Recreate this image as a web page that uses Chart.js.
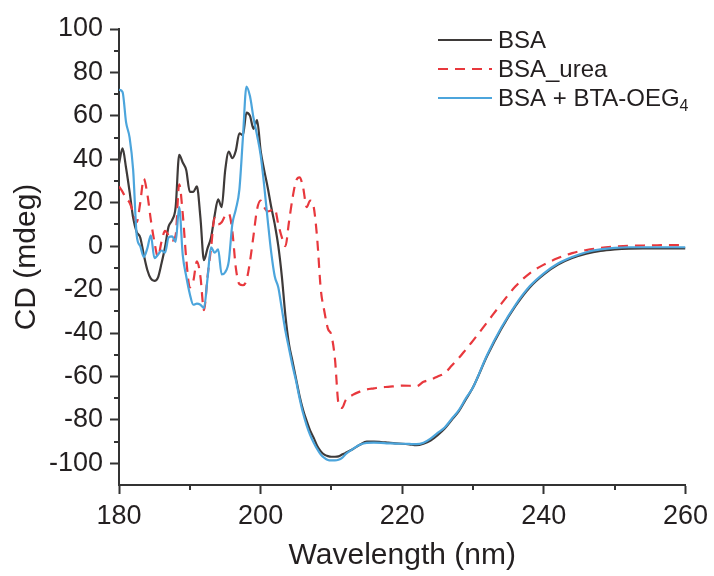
<!DOCTYPE html>
<html>
<head>
<meta charset="utf-8">
<script src="https://cdn.jsdelivr.net/npm/chart.js@4/dist/chart.umd.min.js"></script>
<style>
  html, body { margin: 0; padding: 0; background: #fff; }
  #wrap { width: 714px; height: 576px; }
</style>
</head>
<body>
<div id="wrap"><canvas id="cd"></canvas></div>
<script>
// wavelength (nm)
const wavelength = [
  180, 180.5, 181, 181.5, 182, 182.5, 183, 183.5, 184, 184.5,
  185, 185.5, 186, 186.5, 187, 187.5, 188, 188.5, 189, 189.5,
  190, 190.5, 191, 191.5, 192, 192.5, 193, 193.5, 194, 194.5,
  195, 195.5, 196, 196.5, 197, 197.5, 198, 198.5, 199, 199.5,
  200, 200.5, 201, 201.5, 202, 202.5, 203, 203.5, 204, 204.5,
  205, 205.5, 206, 206.5, 207, 207.5, 208, 208.5, 209, 209.5,
  210, 210.5, 211, 211.5, 212,
  213, 214, 215, 216, 217, 218, 219, 220, 221, 222,
  223, 224, 225, 226, 227, 228, 229, 230,
  232, 234, 236, 238, 240, 242, 244, 246, 248, 250,
  252, 254, 256, 258, 260
];

// CD (mdeg)
const bsa = [
  38, 45, 36, 25, 13, 6.5, 4, -4, -11, -15,
  -16, -14.5, -8, -0.5, 9, 12, 18, 42, 38.5, 35,
  25, 25, 27.5, 13, -6.5, -1, 4, 14, 21.5, 18,
  35, 43.5, 40.5, 44, 52, 51, 61.5, 60, 54, 58,
  44, 35, 27, 18, 10, 0, -14, -32, -45, -53,
  -61, -69, -75.5, -80.5, -85, -88.3, -92, -94.5, -96, -96.7,
  -97, -97, -96.8, -96, -95.2,
  -93.5, -91.5, -90, -90, -90.2, -90.5, -90.8, -91, -91.3, -91.7,
  -91, -89.5, -87, -84, -80, -76, -70.5, -65,
  -50.5, -38, -27.5, -19, -13, -8.5, -5.5, -3.5, -2.2, -1.5,
  -1.1, -1, -1, -1, -1
];

const bsaUrea = [
  27.5, 25, 22, 20, 15.5, 11, 20, 31, 24, 12,
  2, -5, 2, 7, 5, 2.5, 5, 28.5, 15, -6,
  -19, -16, -7, -14, -29.5, -14, -1, 13, 10, 11,
  14, 15, 7, -10, -17.5, -18, -15.8, -7, 5, 17,
  21, 18, 16, 16.5, 17.2, 10, 4, 0, 11, 22,
  30, 31.7, 27, 18, 21, 18, 3, -20, -30, -38,
  -41, -52, -72.5, -74.5, -71,
  -68.5, -67, -66, -65.5, -65, -64.8, -64.5, -64.2, -64.3, -64.5,
  -62.5, -61.5, -60, -58.5, -55, -51.5, -47.5, -43.5,
  -35, -26.5, -18.5, -12.5, -8.5, -5.5, -3.2, -1.8, -0.8, -0.2,
  0.2, 0.3, 0.4, 0.5, 0.5
];

const bsaBta = [
  72, 71, 57, 50, 35, 5, 0, -5, -1, 5,
  -5.5, -4, -2, -3, 4, 4.5, 2, 18, -4, -14,
  -22, -27, -26.5, -27, -28.5, -15, -0.5, -3, -1.5, -13,
  -12, -7, 10, 17, 26, 50, 73.5, 69, 59, 51,
  42, 28, 12, -3, -14, -19, -29, -39, -47, -55,
  -62, -70, -77, -82.5, -87, -90.5, -93.5, -96, -97.5, -98.5,
  -98.7, -98.7, -98.4, -97.5, -95.8,
  -93.5, -91.5, -90.6, -90.5, -90.6, -90.8, -90.9, -91, -91.1, -91.2,
  -90.5, -88.6, -86, -83.5, -79.5, -75.5, -70, -65,
  -50, -37.5, -27, -18.5, -12.5, -8, -5, -2.8, -1.5, -0.8,
  -0.5, -0.5, -0.5, -0.5, -0.5
];

const seriesNames = ['BSA', 'BSA_urea', 'BSA + BTA-OEG'];
const yTicks = [-100, -80, -60, -40, -20, 0, 20, 40, 60, 80, 100];
const xMinor = [190, 210, 230, 250];
const yMinor = [-90, -70, -50, -30, -10, 10, 30, 50, 70, 90];

const FONT = "'Liberation Sans', Arial, sans-serif";
const AXIS = '#333333';
const TEXT = '#231f20';

function pts(ys) {
  return wavelength.map((x, i) => ({ x: x, y: ys[i] }));
}

// minor tick marks (library has no minor ticks)
const minorTicks = {
  id: 'minorTicks',
  afterDraw(chart) {
    const ctx = chart.ctx;
    const xs = chart.scales.x, ys = chart.scales.y;
    const area = chart.chartArea;
    ctx.save();
    ctx.strokeStyle = AXIS;
    ctx.lineWidth = 2;
    ctx.beginPath();
    xMinor.forEach(v => {
      const px = Math.round(xs.getPixelForValue(v));
      ctx.moveTo(px, area.bottom);
      ctx.lineTo(px, area.bottom + 5);
    });
    yMinor.forEach(v => {
      const py = Math.round(ys.getPixelForValue(v));
      ctx.moveTo(area.left, py);
      ctx.lineTo(area.left - 5, py);
    });
    ctx.stroke();
    ctx.restore();
  }
};

// legend drawn by hand so the subscript 4 can be set
const cornerLegend = {
  id: 'cornerLegend',
  afterDraw(chart) {
    const ctx = chart.ctx;
    const x0 = 438, x1 = 492, tx = 498;
    const rows = [40, 69, 98];
    ctx.save();
    chart.data.datasets.forEach((ds, i) => {
      const y = rows[i];
      ctx.strokeStyle = ds.borderColor;
      ctx.lineWidth = 2.2;
      ctx.setLineDash(ds.borderDash || []);
      ctx.beginPath();
      ctx.moveTo(x0, y);
      ctx.lineTo(x1, y);
      ctx.stroke();
      ctx.setLineDash([]);
      ctx.fillStyle = TEXT;
      ctx.textBaseline = 'middle';
      ctx.textAlign = 'left';
      ctx.font = '24px ' + FONT;
      ctx.fillText(ds.label, tx, y + 1);
      if (i === 2) {
        const w = ctx.measureText(ds.label).width;
        ctx.font = '16px ' + FONT;
        ctx.fillText('4', tx + w, y + 9);
      }
    });
    ctx.restore();
  }
};

new Chart(document.getElementById('cd'), {
  type: 'line',
  data: {
    datasets: [
      {
        label: seriesNames[0],
        data: pts(bsa),
        borderColor: '#3e3a39',
        borderWidth: 2.2,
        pointRadius: 0,
        fill: false,
        order: 3
      },
      {
        label: seriesNames[1],
        data: pts(bsaUrea),
        borderColor: '#e8383d',
        borderWidth: 2.2,
        borderDash: [10, 7],
        pointRadius: 0,
        fill: false,
        order: 2
      },
      {
        label: seriesNames[2],
        data: pts(bsaBta),
        borderColor: '#4ca5dc',
        borderWidth: 2.2,
        pointRadius: 0,
        fill: false,
        order: 1
      }
    ]
  },
  options: {
    responsive: true,
    maintainAspectRatio: false,
    animation: false,
    cubicInterpolationMode: 'monotone',
    layout: { padding: { top: 29, right: 28, left: 0, bottom: 0 } },
    plugins: {
      legend: { display: false },
      tooltip: { enabled: false }
    },
    scales: {
      x: {
        type: 'linear',
        min: 180,
        max: 260,
        ticks: {
          stepSize: 20,
          color: TEXT,
          padding: 6,
          font: { family: FONT, size: 27 }
        },
        grid: {
          drawOnChartArea: false,
          drawTicks: true,
          tickLength: 9,
          tickWidth: 2,
          tickColor: AXIS
        },
        border: { display: true, color: AXIS, width: 2 },
        title: {
          display: true,
          text: 'Wavelength (nm)',
          color: TEXT,
          padding: { top: 0, bottom: 2 },
          font: { family: FONT, size: 30 }
        },
        afterFit(scale) { scale.height = 91; }
      },
      y: {
        min: -110,
        max: 100,
        ticks: {
          color: TEXT,
          padding: 7,
          font: { family: FONT, size: 27 }
        },
        afterBuildTicks(scale) {
          scale.ticks = yTicks.map(v => ({ value: v }));
        },
        grid: {
          drawOnChartArea: false,
          drawTicks: true,
          tickLength: 9,
          tickWidth: 2,
          tickColor: AXIS
        },
        border: { display: true, color: AXIS, width: 2 },
        title: {
          display: true,
          text: 'CD (mdeg)',
          color: TEXT,
          padding: { top: 9, bottom: 0 },
          font: { family: FONT, size: 30 }
        },
        afterFit(scale) { scale.width = 119; }
      }
    }
  },
  plugins: [minorTicks, cornerLegend]
});
</script>
</body>
</html>
